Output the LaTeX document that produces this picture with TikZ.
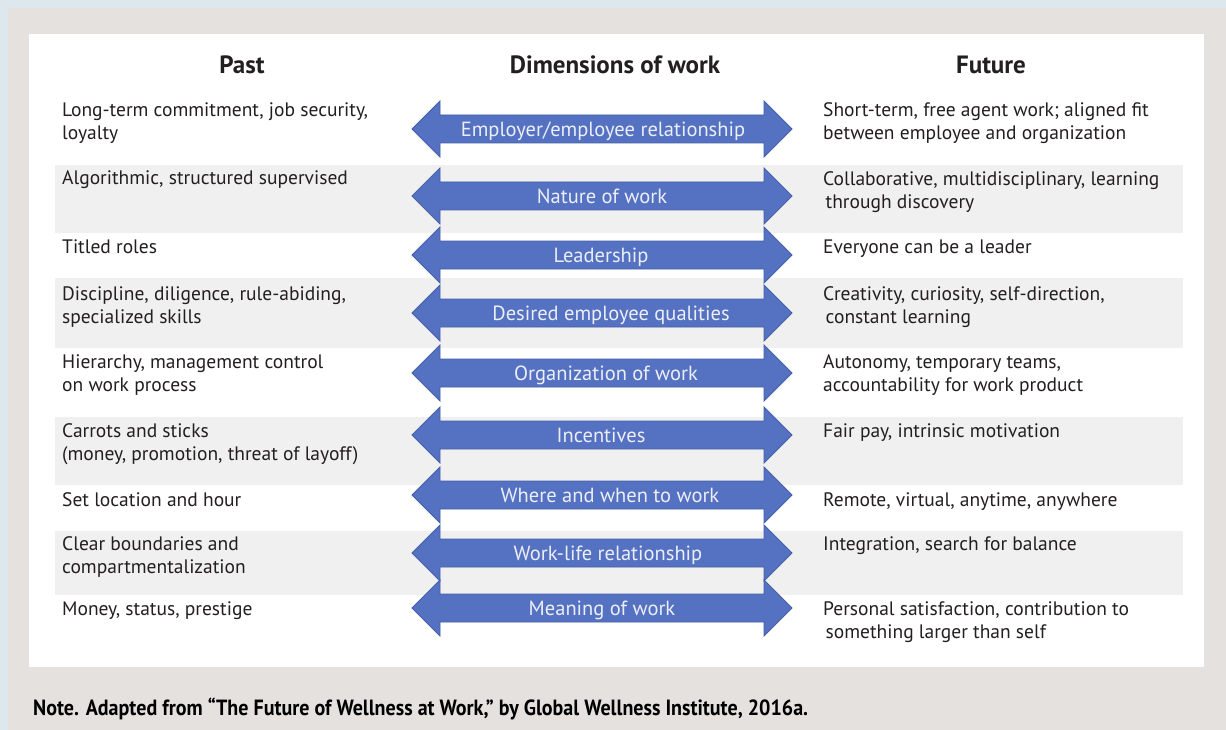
\documentclass[tikz,border=0pt]{standalone}
\usepackage{fontspec}
\setmainfont{PT Sans}
\newfontfamily\notefont{PT Sans}[FakeStretch=0.91]
\definecolor{outergray}{HTML}{E5E1DF}
\definecolor{bluetex}{HTML}{DCE7EE}
\definecolor{rowgray}{HTML}{F0F0F0}
\definecolor{arrfill}{HTML}{5571C1}
\definecolor{arrline}{HTML}{4660A8}
\definecolor{arrtext}{HTML}{ECEFF8}
\definecolor{ink}{HTML}{231F20}
\tikzset{
  txt/.style={anchor=base west, align=left, inner sep=0pt, text=ink,
    font=\fontsize{19.5}{23}\selectfont},
  hdr/.style={anchor=base, inner sep=0pt, text=ink,
    font=\fontsize{25}{29}\selectfont\bfseries},
  arrlab/.style={anchor=base, inner sep=0pt, text=arrtext,
    font=\fontsize{20.5}{24}\selectfont},
  dimarrow/.style={fill=arrfill, draw=arrline, line width=0.8pt, line join=miter},
  rowband/.style={fill=rowgray, draw=none}
}
\newcommand\dimarr[4]{%
  \draw[dimarrow] (412,#1) -- (440,#1-28) -- (440,#1-14) -- (764,#1-14) -- (764,#1-28)
    -- (792,#1) -- (764,#1+28) -- (764,#1+14) -- (440,#1+14) -- (440,#1+28) -- cycle;
  \node[arrlab] (#4) at (#2,#1+7.5) {#3};
}
\begin{document}
\begin{tikzpicture}[x=1pt,y=-1pt]
\useasboundingbox (0,0) rectangle (1226,730);
% background
\fill[outergray] (0,0) rectangle (1226,730);
\fill[bluetex] (0,0) rectangle (8,730);
\fill[bluetex] (0,0) rectangle (1226,8);
\fill[white] (29,34) rectangle (1204,667);
% alternating rows
\fill[rowband] (55,165) rectangle (1183,233);
\fill[rowband] (55,278) rectangle (1183,348);
\fill[rowband] (55,417) rectangle (1183,485);
\fill[rowband] (55,531) rectangle (1183,595);
% headers
\node[hdr] (hpast) at (242,74) {Past};
\node[hdr] (hdim) at (615,74) {Dimensions of work};
\node[hdr] (hfut) at (991,74) {Future};
% arrows
\dimarr{129}{603}{Employer/employee relationship}{d1}
\dimarr{196}{602}{Nature of work}{d2}
\dimarr{255}{601}{Leadership}{d3}
\dimarr{313}{611}{Desired employee qualities}{d4}
\dimarr{373}{606}{Organization of work}{d5}
\dimarr{435}{601}{Incentives}{d6}
\dimarr{495}{610}{Where and when to work}{d7}
\dimarr{553}{608}{Work-life relationship}{d8}
\dimarr{608}{602}{Meaning of work}{d9}
% past column (base anchor = last line baseline)
\node[txt] (p1) at (62,140) {Long-term commitment, job security,\\loyalty};
\node[txt] (p2) at (62,185) {Algorithmic, structured supervised};
\node[txt] (p3) at (62,254) {Titled roles};
\node[txt] (p4) at (62,323) {Discipline, diligence, rule-abiding,\\specialized skills};
\node[txt] (p5) at (62,391) {Hierarchy, management control\\on work process};
\node[txt] (p6) at (62,460) {Carrots and sticks\\(money, promotion, threat of layoff)};
\node[txt] (p7) at (62,506) {Set location and hour};
\node[txt] (p8) at (62,573) {Clear boundaries and\\compartmentalization};
\node[txt] (p9) at (62,615) {Money, status, prestige};
% future column
\node[txt] (f1) at (823,140) {Short-term, free agent work; aligned fit\\between employee and organization};
\node[txt] (f2) at (823,208) {Collaborative, multidisciplinary, learning\\\hspace*{2.5pt}through discovery};
\node[txt] (f3) at (823,254) {Everyone can be a leader};
\node[txt] (f4) at (823,323) {Creativity, curiosity, self-direction,\\\hspace*{2.5pt}constant learning};
\node[txt] (f5) at (823,391) {Autonomy, temporary teams,\\accountability for work product};
\node[txt] (f6) at (823,437) {Fair pay, intrinsic motivation};
\node[txt] (f7) at (823,506) {Remote, virtual, anytime, anywhere};
\node[txt] (f8) at (823,550) {Integration, search for balance};
\node[txt] (f9) at (823,638) {Personal satisfaction, contribution to\\\hspace*{2.5pt}something larger than self};
% note
\node[anchor=base west, inner sep=0pt, text=black, font=\notefont\fontsize{22}{26}\selectfont\bfseries] (note) at (33,715)
  {Note. Adapted from “The Future of Wellness at Work,” by Global Wellness Institute, 2016a.};
\end{tikzpicture}
\end{document}
